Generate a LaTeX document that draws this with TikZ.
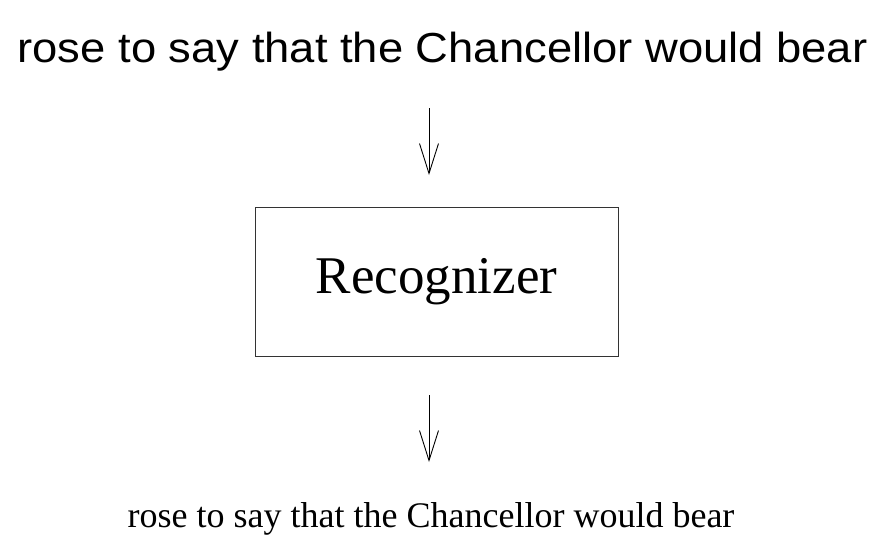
\documentclass[tikz,border=0pt]{standalone}
\usepackage{fontspec}
\setmainfont{Liberation Serif}
\newfontfamily\handfont{Liberation Sans}
\usetikzlibrary{arrows.meta}
\tikzset{
  flow/.style={line width=0.9pt,-{Straight Barb[length=30pt,width=19pt,line width=0.9pt]}},
  procbox/.style={draw=black!80,line width=0.9pt,minimum width=363pt,minimum height=149pt,inner sep=0pt,font=\fontsize{53}{60}\selectfont},
}
\begin{document}
\begin{tikzpicture}[x=1pt,y=-1pt]
\useasboundingbox (0,0) rectangle (875,536);
% handwritten input line
\node[anchor=base,inner sep=0pt,font=\handfont\fontsize{42}{48}\selectfont] (hw) at (442.5,62)
  {\scalebox{1.08}[1]{rose to say that the Chancellor would bear}};
% recognizer block
\node[procbox] (rec) at (436.5,281.5) {Recognizer};
% typeset output line
\node[anchor=base,inner sep=0pt,font=\fontsize{36}{42}\selectfont] (out) at (431,527.5)
  {rose to say that the Chancellor would bear};
% arrows
\coordinate (inA) at (429,108);
\coordinate (inB) at (429,175);
\coordinate (outA) at (429,395);
\coordinate (outB) at (429,462);
\draw[flow] (inA) -- (inB);
\draw[flow] (outA) -- (outB);
\end{tikzpicture}
\end{document}
